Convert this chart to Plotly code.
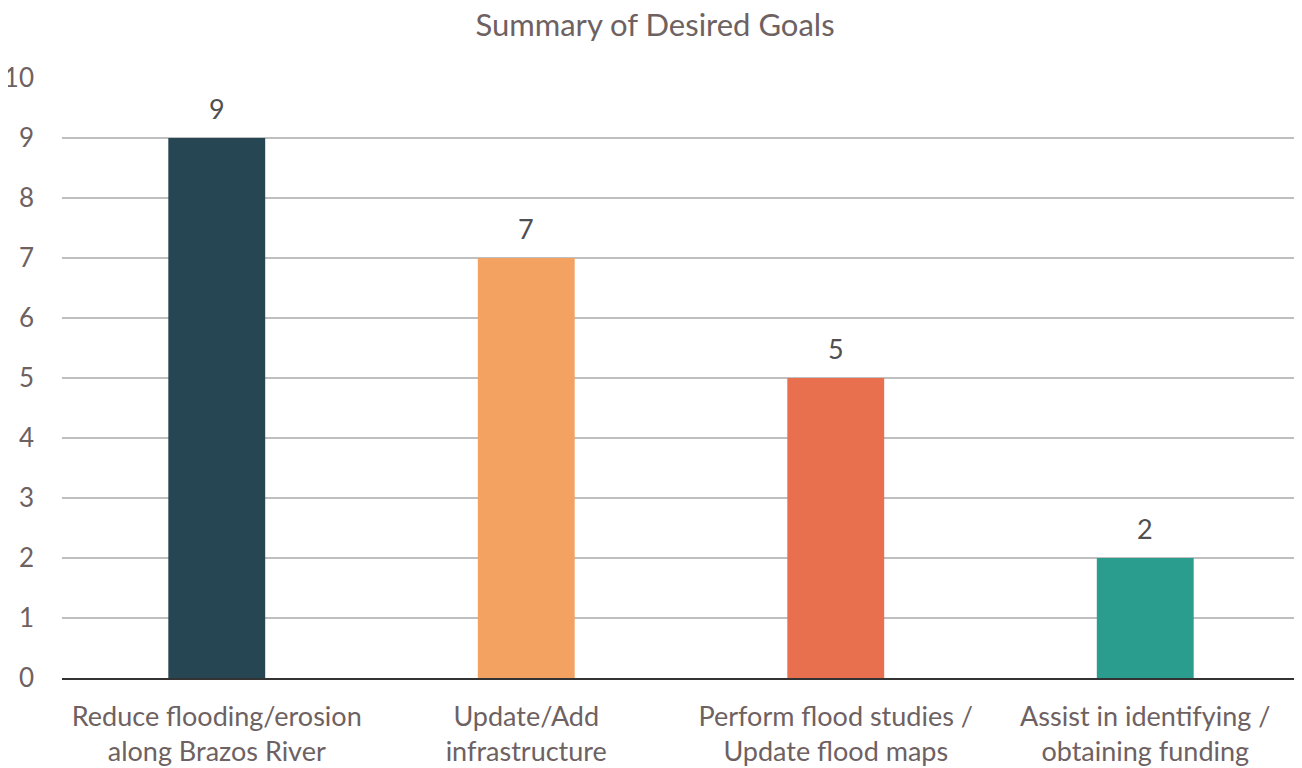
import plotly.graph_objects as go

categories = ["Reduce flooding/erosion<br>along Brazos River", "Update/Add<br>infrastructure",
              "Perform flood studies /<br>Update flood maps", "Assist in identifying /<br>obtaining funding"]
values = [9, 7, 5, 2]
colors = ["#264653", "#F4A261", "#E9704F", "#2A9D8F"]
y_ticks = list(range(0, 11))

TXT = "#6E6162"
FONT = "Lato, 'Open Sans', sans-serif"

fig = go.Figure(go.Bar(
    x=categories, y=values, marker=dict(color=colors, line=dict(width=0)),
    width=0.313, hoverinfo="x+y",
))
for c, v in zip(categories, values):
    fig.add_annotation(x=c, y=v, text=str(v), showarrow=False, yanchor="middle", yshift=30,
                       font=dict(family=FONT, size=27, color="#505050"))
fig.update_layout(
    width=1294, height=760,
    margin=dict(l=54, r=2, t=70, b=90),
    paper_bgcolor="white", plot_bgcolor="white",
    title=dict(text="Summary of Desired Goals", x=0.5, xanchor="center", y=0.978, yanchor="middle",
               font=dict(family=FONT, size=31, color=TXT)),
    font=dict(family=FONT, size=27, color=TXT),
    showlegend=False,
)
fig.update_yaxes(range=[0, 10], tickvals=y_ticks, showgrid=True, gridcolor="#BFBFBF", gridwidth=1.5,
                 zeroline=False, showline=False, ticks="", ticklabelstandoff=27, automargin=False,
                 tickfont=dict(family=FONT, size=26, color=TXT))
fig.update_xaxes(showline=True, linecolor="#333333", linewidth=1.5, ticks="", automargin=False,
                 tickfont=dict(family=FONT, size=27, color=TXT), ticklabelstandoff=14)
fig.write_html("out.html")
